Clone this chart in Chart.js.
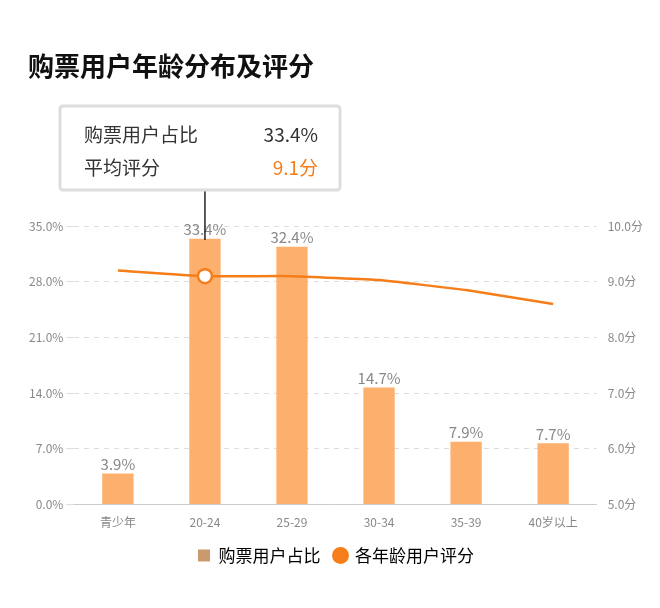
<!DOCTYPE html>
<html><head><meta charset="utf-8">
<script src="https://cdn.jsdelivr.net/npm/chart.js@4"></script>
<style>
body{margin:0;background:#fff;font-family:"Noto Sans CJK SC",sans-serif}
#t{position:absolute;left:28px;top:46px;font-size:26px;font-weight:bold;color:#111}
#w{position:absolute;left:0;top:0;width:660px;height:608px}
</style></head><body>
<div id="w"><canvas id="c" width="660" height="608"></canvas></div>
<div id="t">购票用户年龄分布及评分</div>
<script>
const categories=["青少年","20-24","25-29","30-34","35-39","40岁以上"];
const share=[3.9,33.4,32.4,14.7,7.9,7.7];
const rating=[9.2,9.1,9.1,9.03,8.85,8.6];
const activeIndex=1;
const F='"Noto Sans CJK SC",sans-serif';
const overlay={id:'ov',afterDatasetsDraw(ch){
  const c=ch.ctx;const bm=ch.getDatasetMeta(0);
  c.save();c.font='15px '+F;c.fillStyle='#888';c.textAlign='center';c.textBaseline='bottom';
  bm.data.forEach((b,i)=>c.fillText(share[i].toFixed(1)+'%',b.x,b.y-2));
  const p=ch.getDatasetMeta(1).data[activeIndex];
  c.strokeStyle='#222';c.lineWidth=1.5;c.beginPath();c.moveTo(p.x,190);c.lineTo(p.x,240);c.stroke();
  c.fillStyle='#fff';c.strokeStyle='#ddd';c.lineWidth=3;
  c.beginPath();c.roundRect(60,106,280,84,3);c.fill();c.stroke();
  c.font='19px '+F;c.textBaseline='middle';c.textAlign='left';c.fillStyle='#333';
  c.fillText('购票用户占比',84,135);c.fillText('平均评分',84,168);
  c.textAlign='right';c.fillText(share[activeIndex].toFixed(1)+'%',318,135);
  c.fillStyle='#F57D1A';c.fillText(rating[activeIndex].toFixed(1)+'分',318,168);
  c.restore();}};
new Chart(document.getElementById('c'),{
 data:{labels:categories,datasets:[
  {type:'bar',label:'购票用户占比',data:share,backgroundColor:'#FDB06E',yAxisID:'y',barPercentage:0.36,categoryPercentage:1,order:2},
  {type:'line',label:'各年龄用户评分',data:rating,borderColor:'#F57D1A',backgroundColor:'#F57D1A',borderWidth:2.5,yAxisID:'y1',order:1,
   pointRadius:ctx=>ctx.dataIndex===activeIndex?7:0,pointBackgroundColor:'#fff',pointBorderWidth:2.5,pointBorderColor:'#F57D1A',tension:0.1}]},
 options:{responsive:false,animation:false,
  layout:{padding:{top:226,left:26,right:14,bottom:34}},
  plugins:{tooltip:{enabled:false},legend:{position:'bottom',labels:{font:{size:17,family:F},color:'#333',usePointStyle:true,boxWidth:12,boxHeight:12,padding:14,
   generateLabels:()=>[{text:'购票用户占比',fillStyle:'#C89A6E',strokeStyle:'#C89A6E',lineWidth:0,pointStyle:'rect',datasetIndex:0},
                       {text:'各年龄用户评分',fillStyle:'#F57D1A',strokeStyle:'#F57D1A',lineWidth:0,pointStyle:'circle',datasetIndex:1}]}}},
  scales:{
   x:{grid:{display:false},border:{color:'#ccc'},ticks:{color:'#888',font:{size:12,family:F}}},
   y:{position:'left',min:0,max:35,ticks:{stepSize:7,color:'#888',font:{size:12,family:F},callback:v=>v.toFixed(1)+'%'},grid:{color:'#ddd'},border:{display:false,dash:[5,5]}},
   y1:{position:'right',min:5,max:10,ticks:{stepSize:1,color:'#888',font:{size:12,family:F},callback:v=>v.toFixed(1)+'分'},grid:{display:false},border:{display:false}}}},
 plugins:[overlay]});
</script></body></html>
